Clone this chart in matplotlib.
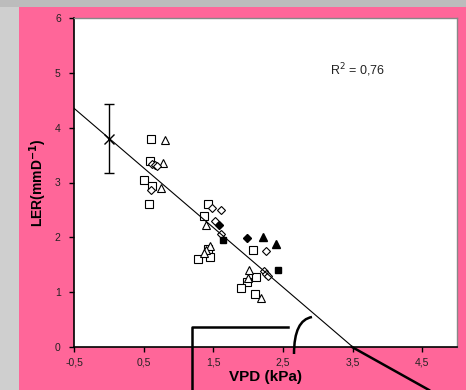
import matplotlib
matplotlib.use("Agg")
import matplotlib.pyplot as plt
import numpy as np
from matplotlib.patches import Rectangle, PathPatch
from matplotlib.lines import Line2D
from matplotlib.path import Path

plt.rcParams["font.family"] = ["Liberation Sans", "DejaVu Sans"]

# ---------------------------------------------------------------------------
# Data (VPD in kPa, LER in mm/D)
# ---------------------------------------------------------------------------
open_sq_x = [0.61, 0.59, 0.51, 0.62, 0.58, 1.43, 1.36, 1.42, 1.45, 1.28,
             2.07, 2.11, 1.98, 1.90, 2.10]
open_sq_y = [3.80, 3.40, 3.05, 2.93, 2.60, 2.60, 2.38, 1.78, 1.64, 1.60,
             1.77, 1.28, 1.18, 1.08, 0.96]

open_tri_x = [0.80, 0.78, 0.75, 1.40, 1.46, 1.40, 1.37, 2.01, 2.00, 2.18]
open_tri_y = [3.77, 3.35, 2.90, 2.23, 1.85, 1.77, 1.71, 1.41, 1.26, 0.90]

open_dia_x = [0.62, 0.66, 0.69, 0.60, 1.48, 1.61, 1.53, 1.61, 2.25, 2.23, 2.26, 2.29]
open_dia_y = [3.34, 3.32, 3.30, 2.86, 2.53, 2.49, 2.30, 2.06, 1.75, 1.39, 1.34, 1.30]

fill_sq_x = [1.64, 2.43]
fill_sq_y = [1.95, 1.40]

fill_tri_x = [2.22, 2.40]
fill_tri_y = [2.01, 1.87]

fill_dia_x = [1.58, 1.98]
fill_dia_y = [2.23, 1.98]

# mean point with error bar
mean_x, mean_y = 0.0, 3.80
mean_err = 0.63

# regression line
intercept = 3.81
slope = -1.0875
r2_text = "R$^2$ = 0,76"

xticks = [-0.5, 0.5, 1.5, 2.5, 3.5, 4.5]
xtick_labels = ["-0,5", "0,5", "1,5", "2,5", "3,5", "4,5"]
yticks = [0, 1, 2, 3, 4, 5, 6]

# ---------------------------------------------------------------------------
W, H = 466, 390
fig = plt.figure(figsize=(W / 100, H / 100), dpi=100)
fig.patch.set_facecolor("#bcbcbc")


def fx(px):
    return px / W


def fy(py):
    return 1 - py / H


# lighter grey band on the left, pink panel
fig.add_artist(Rectangle((0, 0), fx(19), fy(7), transform=fig.transFigure,
                         facecolor="#cfcfcf", edgecolor="none", zorder=0))
fig.add_artist(Rectangle((fx(19), 0), 1 - fx(19), fy(7), transform=fig.transFigure,
                         facecolor="#ff6699", edgecolor="none", zorder=0))

ax = fig.add_axes([fx(74), fy(347), fx(457) - fx(74), fy(18) - fy(347)])
ax.set_facecolor("white")

ms = 5.5
mew = 0.8
ax.plot(open_sq_x, open_sq_y, "s", ms=ms, mfc="white", mec="black", mew=mew, ls="none")
ax.plot(open_tri_x, open_tri_y, "^", ms=ms, mfc="white", mec="black", mew=mew, ls="none")
ax.plot(open_dia_x, open_dia_y, "D", ms=ms - 1, mfc="white", mec="black", mew=mew, ls="none")
ax.plot(fill_sq_x, fill_sq_y, "s", ms=ms - 1, mfc="black", mec="black", ls="none")
ax.plot(fill_tri_x, fill_tri_y, "^", ms=ms, mfc="black", mec="black", ls="none")
ax.plot(fill_dia_x, fill_dia_y, "D", ms=ms - 1.5, mfc="black", mec="black", ls="none")

ax.errorbar([mean_x], [mean_y], yerr=[mean_err], fmt="x", color="black",
            ms=7, mew=1, elinewidth=1, capsize=3.5, capthick=1)

xl = np.array([-0.5, 3.5])
ax.plot(xl, intercept + slope * xl, color="black", lw=0.8)

ax.text(3.17, 5.05, r2_text, fontsize=9, color="#222222", va="center", ha="left")

ax.set_xlim(-0.5, 5.0)
ax.set_ylim(0, 6)
ax.set_xticks(xticks)
ax.set_xticklabels(xtick_labels)
ax.set_yticks(yticks)
ax.tick_params(axis="both", direction="out", length=3.5, width=1,
               labelsize=7.5, colors="black", labelcolor="#222222")
ax.tick_params(axis="x", pad=4)
ax.tick_params(axis="y", pad=6)

for s in ["left", "bottom"]:
    ax.spines[s].set_color("black")
    ax.spines[s].set_linewidth(1.2)
for s in ["top", "right"]:
    ax.spines[s].set_color("#888888")
    ax.spines[s].set_linewidth(1)

ax.set_xlabel("VPD (kPa)", fontsize=11, fontweight="bold", labelpad=2)
ax.set_ylabel("LER(mmD$^{\\mathbf{-1}}$)", fontsize=10, fontweight="bold", labelpad=4)

# hand-drawn overlay strokes
lw = 1.8
fig.add_artist(Line2D([fx(192), fx(192), fx(288)], [fy(390), fy(327), fy(327)],
                      transform=fig.transFigure, color="black", lw=lw))
fig.add_artist(Line2D([fx(352), fx(429)], [fy(347), fy(390)],
                      transform=fig.transFigure, color="black", lw=lw))
curve = Path([(fx(294), fy(354)), (fx(294), fy(320)), (fx(312), fy(317))],
             [Path.MOVETO, Path.CURVE3, Path.CURVE3])
fig.add_artist(PathPatch(curve, transform=fig.transFigure, facecolor="none",
                         edgecolor="black", lw=lw))

fig.savefig("out.png", dpi=100, facecolor=fig.get_facecolor())
